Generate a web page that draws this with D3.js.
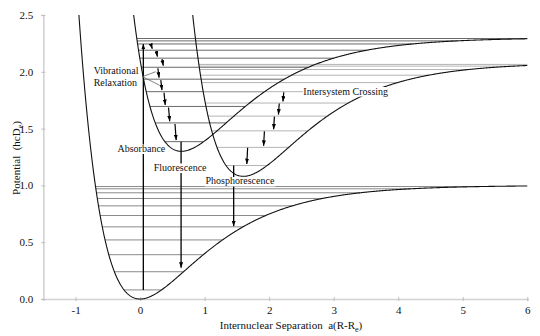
<!DOCTYPE html>
<html><head><meta charset="utf-8">
<script src="https://cdn.jsdelivr.net/npm/d3@7"></script>
<style>
html,body{margin:0;padding:0;background:#fff;}
svg{display:block;}
svg text{font-family:"Liberation Serif","Times New Roman","DejaVu Serif",serif;}
</style></head><body>
<svg id="c" width="540" height="336"></svg>
<script>
// ---- data ----
const xTicks = [-1, 0, 1, 2, 3, 4, 5, 6];
const yTicks = [0, 0.5, 1, 1.5, 2, 2.5];
const stateNames = ["S0", "S1", "T1"];
const stateMinX = [0, 0.64, 1.6];
const stateMinY = [0, 1.3, 1.08];
const stateDepth = [1, 1, 1];
const groundLevels  = [0.08, 0.24, 0.39, 0.52, 0.635, 0.735, 0.82, 0.885, 0.935, 0.97, 0.99];
const singletLevels = [1.385, 1.55, 1.695, 1.825, 1.935, 2.04, 2.12, 2.19, 2.245, 2.272, 2.293];
const tripletLevels = [1.175, 1.335, 1.48, 1.61, 1.725, 1.825, 1.905, 1.97, 2.02, 2.05, 2.065];
const relaxX    = [0.18, 0.26, 0.35, 0.285, 0.33, 0.38, 0.45, 0.55];
const relaxFrom = [8, 7, 6, 5, 4, 3, 2, 1];
const iscX    = [2.22, 2.15, 2.075, 1.92, 1.66];
const iscFrom = [5, 4, 3, 2, 1];
const transNames = ["Absorbance", "Fluorescence", "Phosphorescence"];
const transX    = [0.05, 0.635, 1.45];
const transFrom = [0.08, 1.385, 1.175];
const transTo   = [2.245, 0.275, 0.64];

// ---- layout ----
const FONT = "'Liberation Serif','Times New Roman','DejaVu Serif',serif";
const svg = d3.select("#c");
const x = d3.scaleLinear().domain([-1.5, 6]).range([43.3, 527.3]);
const y = d3.scaleLinear().domain([0, 2.5]).range([299, 15]);
const xMax = 6, yMax = 2.5;

const defs = svg.append("defs");
defs.append("marker").attr("id", "ah")
  .attr("viewBox", "0 0 10 10").attr("refX", 10).attr("refY", 5)
  .attr("markerWidth", 5.5).attr("markerHeight", 4).attr("markerUnits", "userSpaceOnUse")
  .attr("preserveAspectRatio", "none").attr("orient", "auto")
  .append("path").attr("d", "M0,0L10,5L0,10z").attr("fill", "#000");

// axes
const gx = svg.append("g").attr("transform", `translate(0,${y(0)})`)
  .call(d3.axisBottom(x).tickValues(xTicks).tickFormat(d => String(d)).tickSizeOuter(0).tickSize(2).tickPadding(5));
gx.selectAll(".tick line").attr("y1", -2).attr("y2", 2).attr("stroke", "#bdbdbd");
const gy = svg.append("g").attr("transform", `translate(${x(-1.5)},0)`)
  .call(d3.axisLeft(y).tickValues(yTicks).tickFormat(d3.format(".1f")).tickSizeOuter(0).tickSize(2).tickPadding(8));
gy.selectAll(".tick line").attr("x1", -2).attr("x2", 2).attr("stroke", "#bdbdbd");
[gx, gy].forEach(g => {
  g.attr("font-family", FONT).attr("font-size", 11);
  g.select(".domain").attr("stroke", "#d2d2d2").attr("stroke-width", 1.6);
  g.selectAll("text").attr("font-family", FONT).attr("font-size", 11).attr("fill", "#111");
});

// axis titles
const xt = svg.append("text").attr("x", 291).attr("y", 329).attr("text-anchor", "middle")
  .attr("font-family", FONT).attr("font-size", 11).attr("fill", "#111");
xt.append("tspan").text("Internuclear Separation\u00a0 a(R-R");
xt.append("tspan").attr("font-size", 8).attr("dy", 3).text("e");
xt.append("tspan").attr("dy", -3).text(")");
const yt = svg.append("text").attr("transform", "translate(20,158) rotate(-90)").attr("text-anchor", "middle")
  .attr("font-family", FONT).attr("font-size", 11).attr("fill", "#111");
yt.append("tspan").text("Potential\u00a0 (hcD");
yt.append("tspan").attr("font-size", 8).attr("dy", 3).text("e");
yt.append("tspan").attr("dy", -3).text(")");

// Morse helpers built from the per-state parameters
function V(i, xx) { const e = 1 - Math.exp(-(xx - stateMinX[i])); return stateMinY[i] + stateDepth[i] * e * e; }
function branches(i, E) {
  const r = Math.sqrt((E - stateMinY[i]) / stateDepth[i]);
  const xl = stateMinX[i] - Math.log(1 + r);
  const xr = r < 1 ? Math.min(xMax, stateMinX[i] - Math.log(1 - r)) : xMax;
  return [xl, xr];
}

// vibrational levels
const levelSets = [groundLevels, singletLevels, tripletLevels];
const levelColors = ["#8a8a8a", "#6a6a6a", "#b4b4b4"];
levelSets.forEach((lv, i) => {
  svg.append("g").selectAll("line").data(lv).join("line")
    .attr("x1", d => x(branches(i, d)[0])).attr("x2", d => x(branches(i, d)[1]))
    .attr("y1", d => y(d)).attr("y2", d => y(d))
    .attr("stroke", levelColors[i]).attr("stroke-width", 1);
});

// potential curves
const line = d3.line().x(d => x(d[0])).y(d => y(d[1]));
stateNames.forEach((n, i) => {
  const x0 = branches(i, yMax)[0];
  const pts = d3.range(x0, xMax, 0.01).map(xx => [xx, V(i, xx)]);
  pts.push([xMax, V(i, xMax)]);
  svg.append("path").datum(pts).attr("d", line).attr("fill", "none")
    .attr("stroke", "#111").attr("stroke-width", 1.1);
});

// arrows
function arrow(xa, ya, xb, yb, w) {
  svg.append("line").attr("x1", xa).attr("y1", ya).attr("x2", xb).attr("y2", yb)
    .attr("stroke", "#000").attr("stroke-width", w || 1.2).attr("marker-end", "url(#ah)");
}
relaxX.forEach((xx, k) => {
  const i = relaxFrom[k];
  arrow(x(xx) - 0.6, y(singletLevels[i]) + 1, x(xx) + 0.6, y(singletLevels[i - 1]) - 1.5);
});
iscX.forEach((xx, k) => {
  const i = iscFrom[k];
  arrow(x(xx) + 0.4, y(tripletLevels[i]) + 0.5, x(xx) - 0.4, y(tripletLevels[i - 1]) - 1.5);
});
transNames.forEach((n, k) => {
  arrow(x(transX[k]), y(transFrom[k]), x(transX[k]), y(transTo[k]), 1.3);
});

// pointer lines for "Vibrational Relaxation"
const ptrFrom = [0.037, 1.957];
const ptrTo = [[0.243, 2.001], [0.294, 1.884]];

// labels with white backgrounds
const labels = [
  {t: "Vibrational", x: -0.72, y: 1.98},
  {t: "Relaxation", x: -0.72, y: 1.879},
  {t: "Absorbance", x: -0.35, y: 1.294},
  {t: "Fluorescence", x: 0.212, y: 1.127},
  {t: "Phosphorescence", x: 1.013, y: 1.008},
  {t: "Intersystem Crossing", x: 2.53, y: 1.80}
];
labels.forEach(l => {
  const g = svg.append("g");
  const r = g.append("rect").attr("fill", "#fff");
  const t = g.append("text").attr("x", x(l.x)).attr("y", y(l.y))
    .attr("font-family", FONT).attr("font-size", 10).attr("fill", "#111").text(l.t);
  const b = t.node().getBBox();
  r.attr("x", b.x - 0.5).attr("width", b.width + 1)
   .attr("y", y(l.y) - 7.5).attr("height", 9.5);
});
ptrTo.forEach(p => {
  svg.append("line").attr("x1", x(ptrFrom[0])).attr("y1", y(ptrFrom[1]))
    .attr("x2", x(p[0])).attr("y2", y(p[1])).attr("stroke", "#666").attr("stroke-width", 0.8);
});
</script>
</body></html>
